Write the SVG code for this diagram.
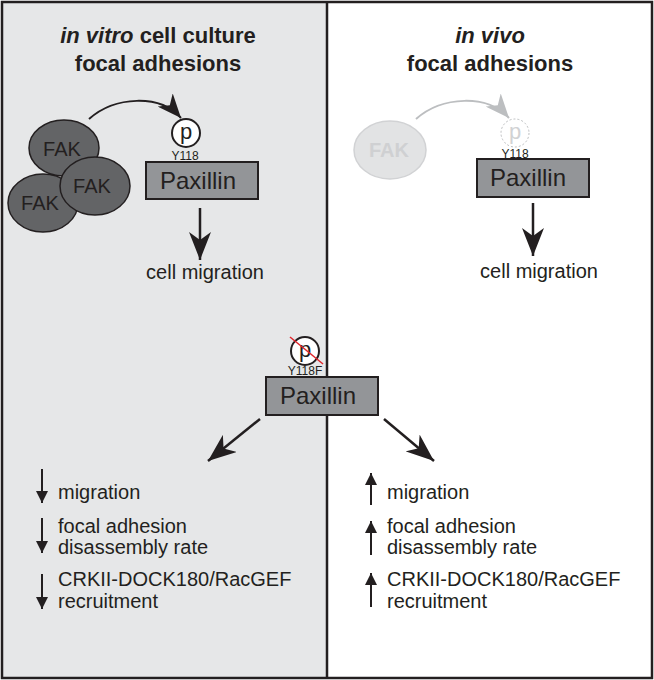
<svg xmlns="http://www.w3.org/2000/svg" width="654" height="680" viewBox="0 0 654 680">
<style>
text{font-family:"Liberation Sans",Arial,sans-serif;fill:#231f20}
.title{font-size:22px;font-weight:bold;text-anchor:middle}
.fak{font-size:20px;text-anchor:middle}
.pax{font-size:24px;text-anchor:middle}
.lbl{font-size:20px}
.mid{text-anchor:middle}
.y{font-size:12px;text-anchor:middle}
.box{fill:#939598;stroke:#231f20;stroke-width:2}
.ell{fill:#636466;stroke:#231f20;stroke-width:1.5}
.ln{stroke:#231f20;fill:none}
</style>
<defs>
<marker id="big" markerUnits="userSpaceOnUse" viewBox="0 0 28 22" refX="28" refY="11" markerWidth="28" markerHeight="22" orient="auto"><path d="M0,0 L28,11 L0,22 L8,11 z" fill="#231f20"/></marker>
<marker id="curve" markerUnits="userSpaceOnUse" viewBox="0 0 24 20" refX="24" refY="10" markerWidth="24" markerHeight="20" orient="auto"><path d="M0,0 L24,10 L0,20 L7,10 z" fill="#231f20"/></marker>
<marker id="curveg" markerUnits="userSpaceOnUse" viewBox="0 0 24 20" refX="24" refY="10" markerWidth="24" markerHeight="20" orient="auto"><path d="M0,0 L24,10 L0,20 L7,10 z" fill="#bcbec0"/></marker>
<marker id="sm" markerUnits="userSpaceOnUse" viewBox="0 0 12 12" refX="12" refY="6" markerWidth="12" markerHeight="12" orient="auto"><path d="M0,0 L12,6 L0,12 z" fill="#231f20"/></marker>
</defs>
<rect x="0" y="0" width="654" height="680" fill="#ffffff"/>
<rect x="3" y="2" width="324" height="676" fill="#e6e7e8"/>
<g id="frame">
<rect x="2" y="2" width="650" height="676" fill="none" stroke="#231f20" stroke-width="2.5"/>
<line x1="327" y1="2" x2="327" y2="678" stroke="#231f20" stroke-width="2.5"/>
</g>
<g id="title-left">
<text class="title" x="158" y="43"><tspan font-style="italic">in vitro</tspan> cell culture</text>
<text class="title" x="158" y="71">focal adhesions</text>
</g>
<g id="title-right">
<text class="title" x="490" y="43" font-style="italic">in vivo</text>
<text class="title" x="490" y="71">focal adhesions</text>
</g>
<g id="fak-left">
<ellipse class="ell" cx="43" cy="203" rx="35" ry="29"/>
<ellipse class="ell" cx="64" cy="148" rx="35" ry="28"/>
<ellipse class="ell" cx="95" cy="186" rx="35" ry="29"/>
<text class="fak" x="62" y="156">FAK</text>
<text class="fak" x="92" y="193">FAK</text>
<text class="fak" x="40" y="210">FAK</text>
</g>
<g id="fak-right">
<ellipse cx="390" cy="150" rx="36" ry="29" fill="#e2e3e4" stroke="#d1d2d4" stroke-width="1.5"/>
<text class="fak" x="389" y="157" font-weight="bold" style="fill:#cfd0d2">FAK</text>
</g>
<g id="p-left">
<circle cx="186" cy="133" r="14" fill="#ffffff" stroke="#231f20" stroke-width="2"/>
<text class="mid" x="186" y="139" font-size="22">p</text>
<text class="y" x="185" y="160">Y118</text>
</g>
<g id="p-right">
<circle cx="515" cy="133" r="14" fill="none" stroke="#bcbec0" stroke-width="1" stroke-dasharray="2,2"/>
<text class="mid" x="515" y="139" font-size="22" style="fill:#d1d2d4">p</text>
<text class="y" x="515" y="158">Y118</text>
</g>
<g id="paxillin-left">
<rect class="box" x="146" y="162" width="112" height="37"/>
<text class="pax" x="198" y="189">Paxillin</text>
</g>
<g id="paxillin-right">
<rect class="box" x="477" y="159" width="112" height="38"/>
<text class="pax" x="528" y="186">Paxillin</text>
</g>
<g id="paxillin-mid">
<rect class="box" x="266" y="377" width="112" height="38"/>
<text class="pax" x="318" y="404">Paxillin</text>
</g>
<g id="p-mid">
<circle cx="305" cy="351" r="14" fill="#ffffff" stroke="#231f20" stroke-width="2"/>
<text class="mid" x="305" y="357" font-size="22">p</text>
<line x1="290" y1="337" x2="323" y2="364" stroke="#e0262c" stroke-width="1.5"/>
<text class="y" x="305" y="375">Y118F</text>
</g>
<g id="migration-left"><text class="lbl mid" x="205" y="279">cell migration</text></g>
<g id="migration-right"><text class="lbl mid" x="539" y="278">cell migration</text></g>
<g id="list-left">
<text class="lbl" x="58" y="499">migration</text>
<text class="lbl" x="58" y="533">focal adhesion</text>
<text class="lbl" x="58" y="554">disassembly rate</text>
<text class="lbl" x="58" y="586">CRKII-DOCK180/RacGEF</text>
<text class="lbl" x="58" y="608">recruitment</text>
</g>
<g id="list-right">
<text class="lbl" x="387" y="499">migration</text>
<text class="lbl" x="387" y="533">focal adhesion</text>
<text class="lbl" x="387" y="554">disassembly rate</text>
<text class="lbl" x="387" y="586">CRKII-DOCK180/RacGEF</text>
<text class="lbl" x="387" y="608">recruitment</text>
</g>
<g id="connectors">
<path class="ln" d="M89,119 C115,96 160,94 181,118" stroke-width="2" marker-end="url(#curve)"/>
<path d="M416,119 C442,96 488,94 509,118" fill="none" stroke="#bcbec0" stroke-width="2" marker-end="url(#curveg)"/>
<line class="ln" x1="200" y1="208" x2="200" y2="260" stroke-width="2.5" marker-end="url(#big)"/>
<line class="ln" x1="533" y1="203" x2="533" y2="256" stroke-width="2.5" marker-end="url(#big)"/>
<line class="ln" x1="260" y1="419" x2="208" y2="461" stroke-width="2.5" marker-end="url(#big)"/>
<line class="ln" x1="384" y1="419" x2="434" y2="461" stroke-width="2.5" marker-end="url(#big)"/>
<line class="ln" x1="42" y1="469" x2="42" y2="503" stroke-width="2" marker-end="url(#sm)"/>
<line class="ln" x1="42" y1="518" x2="42" y2="553" stroke-width="2" marker-end="url(#sm)"/>
<line class="ln" x1="42" y1="574" x2="42" y2="609" stroke-width="2" marker-end="url(#sm)"/>
<line class="ln" x1="371" y1="505" x2="371" y2="473" stroke-width="2" marker-end="url(#sm)"/>
<line class="ln" x1="371" y1="555" x2="371" y2="521" stroke-width="2" marker-end="url(#sm)"/>
<line class="ln" x1="371" y1="607" x2="371" y2="573" stroke-width="2" marker-end="url(#sm)"/>
</g>
</svg>
